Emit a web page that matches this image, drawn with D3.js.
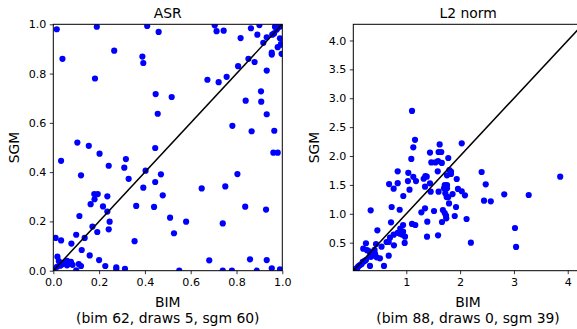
<!DOCTYPE html>
<html>
<head>
<meta charset="utf-8">
<script src="https://cdn.jsdelivr.net/npm/d3@7"></script>
<style>
  body { margin: 0; background: #fff; }
  svg { display: block; font-family: "DejaVu Sans", sans-serif; }
</style>
</head>
<body>
<div id="chart"></div>
<script>
// ASR panel: [bim, sgm]
const asrPoints = [
  [0.015,0.98],[0.04,0.86],[0.19,0.99],[0.182,0.78],[0.266,0.893],[0.389,0.869],[0.393,0.843],[0.41,0.993],[0.46,0.969],
  [0.447,0.717],[0.517,0.705],[0.456,0.637],[0.445,0.498],[0.105,0.52],[0.155,0.507],[0.202,0.475],[0.034,0.446],
  [0.242,0.426],[0.317,0.453],[0.31,0.418],
  [0.673,0.775],[0.722,0.765],[0.705,0.996],[0.713,0.972],[0.744,0.974],[0.757,0.787],[0.807,0.83],[0.818,0.944],
  [0.852,0.86],[0.863,0.984],[0.879,0.847],[0.891,0.958],[0.9,0.997],[0.917,0.925],[0.932,0.947],[0.932,0.812],
  [0.954,0.885],[0.954,0.877],[0.956,0.958],[0.964,0.963],[0.968,0.99],[0.972,0.993],[0.98,0.985],[0.98,0.907],
  [0.99,0.943],[0.994,0.92],[0.997,0.88],[0.975,0.978],[0.99,0.99],[1.0,1.0],[0.997,0.917],
  [0.782,0.588],[0.84,0.69],[0.866,0.566],[0.907,0.728],[0.908,0.686],[0.932,0.635],[0.965,0.568],[0.961,0.479],[0.98,0.479],
  [0.121,0.387],[0.329,0.373],[0.403,0.406],[0.47,0.391],[0.393,0.337],[0.445,0.36],[0.478,0.306],[0.362,0.263],
  [0.44,0.259],[0.51,0.215],[0.58,0.199],[0.527,0.152],[0.355,0.12],
  [0.179,0.311],[0.194,0.311],[0.18,0.29],[0.236,0.302],[0.163,0.27],[0.217,0.261],[0.236,0.24],[0.246,0.199],
  [0.242,0.168],[0.192,0.157],[0.171,0.179],[0.114,0.222],[0.01,0.133],[0.034,0.123],[0.1,0.146],[0.079,0.11],
  [0.137,0.133],[0.124,0.084],[0.159,0.062],[0.2,0.043],[0.227,0.019],[0.275,0.014],[0.275,0.005],[0.313,0.008],
  [0.111,0.027],[0.121,0.019],[0.1,0.001],[0.018,0.057],[0.024,0.039],[0.046,0.033],[0.06,0.04],[0.077,0.036],
  [0.084,0.024],[0.04,0.026],[0.016,0.016],[0.005,0.006],[0.03,0.02],[0.06,0.022],[0.07,0.028],
  [0.648,0.334],[0.751,0.342],[0.804,0.392],[0.838,0.26],[0.929,0.248],[0.74,0.192],[0.681,0.042],[0.859,0.046],
  [0.932,0.043],[0.55,0.0],[0.74,0.0],[0.78,0.0],[0.888,0.0],[0.954,0.01],[0.99,0.005]
];

// L2 norm panel: [bim, sgm]
const l2Points = [
  [1.106,2.78],[1.162,2.28],[1.13,2.15],[1.093,1.95],[1.44,2.06],[1.62,2.2],[1.60,2.07],[1.65,2.07],[2.03,2.22],
  [1.78,1.966],[1.465,1.89],[1.54,1.89],[1.59,1.91],[1.66,1.88],
  [0.84,1.735],[1.037,1.71],[1.13,1.64],[1.18,1.567],[1.03,1.567],[0.68,1.515],[0.84,1.53],[0.765,1.434],[1.06,1.417],
  [0.944,1.308],[1.354,1.654],[1.38,1.642],[1.323,1.607],[1.584,1.735],[1.8,1.758],[1.83,1.73],[1.83,1.69],
  [1.756,1.666],[1.937,1.602],[1.44,1.528],[1.348,1.469],[1.714,1.498],[1.757,1.498],[1.70,1.44],[1.757,1.44],
  [1.453,1.382],[1.60,1.382],[1.725,1.355],[1.75,1.29],[1.78,1.29],[1.86,1.342],[1.96,1.43],[2.03,1.39],[2.09,1.32],
  [2.40,1.723],[2.476,1.51],[2.82,1.337],[3.275,1.325],[3.86,1.642],[2.444,1.227],[2.57,1.216],[1.794,1.18],
  [1.28,1.026],[1.348,1.095],[1.515,1.048],[1.68,1.066],[1.714,1.014],[1.738,0.968],[1.743,0.922],[1.90,0.962],
  [1.924,1.118],[2.12,0.91],[1.663,0.858],[1.39,0.864],[1.106,0.824],[1.167,0.806],[0.94,0.806],[0.888,0.742],
  [1.59,0.628],[1.385,0.604],[2.20,0.5],[3.02,0.754],[3.04,0.426],[0.716,0.853],[0.728,1.118],[0.877,1.07],
  [0.338,1.06],[0.462,0.714],[0.883,0.656],[0.84,0.67],[0.766,0.639],[0.697,0.587],[0.673,0.512],[0.633,0.512],
  [0.94,0.69],[0.92,0.64],[0.976,0.604],[0.97,0.495],[0.77,0.455],[0.673,0.275],[0.585,0.097],[0.25,0.49],
  [0.2,0.396],[0.27,0.37],[0.437,0.477],[0.41,0.374],[0.39,0.34],[0.45,0.247],[0.325,0.097],[0.35,0.26],
  [0.54,0.43],[0.31,0.35],[0.42,0.305],[0.325,0.258],[0.25,0.2],[0.19,0.17],[0.14,0.114],[0.1,0.08],[0.05,0.04],
  [0.51,0.23],[0.015,0.027],[0.07,0.05],[0.12,0.1],[0.17,0.13],[0.22,0.18],[0.03,0.01],[0.08,0.03]
];

const asrTicks = [0, 0.2, 0.4, 0.6, 0.8, 1.0];
const l2XTicks = [1, 2, 3, 4];
const l2YTicks = [0.5, 1.0, 1.5, 2.0, 2.5, 3.0, 3.5, 4.0];

const panels = [
  { title: 'ASR', xlabel: 'BIM', note: '(bim 62, draws 5, sgm 60)', points: asrPoints,
    domain: [0, 1], xTicks: asrTicks, yTicks: asrTicks, xFmt: d3.format('.1f'), yFmt: d3.format('.1f'),
    left: 53.3, top: 24.3, width: 229, height: 246.4, ylabelX: 19.3 },
  { title: 'L2 norm', xlabel: 'BIM', note: '(bim 88, draws 0, sgm 39)', points: l2Points,
    domain: [0.015, 4.28], xTicks: l2XTicks, yTicks: l2YTicks, xFmt: d3.format('d'), yFmt: d3.format('.1f'),
    left: 353.3, top: 24.3, width: 229.5, height: 246.4, ylabelX: 319.3 }
];

const W = 577, H = 329;
const svg = d3.select('#chart').append('svg').attr('width', W).attr('height', H);

panels.forEach((p, i) => {
  const x = d3.scaleLinear().domain(p.domain).range([p.left, p.left + p.width]);
  const y = d3.scaleLinear().domain(p.domain).range([p.top + p.height, p.top]);

  svg.append('clipPath').attr('id', 'clip' + i)
    .append('rect').attr('x', p.left).attr('y', p.top).attr('width', p.width).attr('height', p.height);

  const plot = svg.append('g').attr('clip-path', `url(#clip${i})`);
  plot.selectAll('circle')
    .data(p.points)
    .enter()
    .append('circle')
    .attr('cx', d => x(d[0]))
    .attr('cy', d => y(d[1]))
    .attr('r', 3.1)
    .attr('fill', '#0000ff');

  plot.append('line')
    .attr('x1', x(p.domain[0])).attr('y1', y(p.domain[0]))
    .attr('x2', x(p.domain[1])).attr('y2', y(p.domain[1]))
    .attr('stroke', '#000').attr('stroke-width', 1.5);

  const xAxis = svg.append('g')
    .attr('transform', `translate(0,${p.top + p.height})`)
    .call(d3.axisBottom(x).tickValues(p.xTicks).tickFormat(p.xFmt).tickSize(3.5).tickPadding(3.5).tickSizeOuter(0));
  const yAxis = svg.append('g')
    .attr('transform', `translate(${p.left},0)`)
    .call(d3.axisLeft(y).tickValues(p.yTicks).tickFormat(p.yFmt).tickSize(3.5).tickPadding(3.5).tickSizeOuter(0));
  [xAxis, yAxis].forEach(a => {
    a.select('.domain').remove();
    a.selectAll('text').attr('font-size', 11.1).attr('font-family', '"DejaVu Sans", sans-serif').attr('fill', '#000');
    a.selectAll('line').attr('stroke', '#000').attr('stroke-width', 0.8);
  });

  svg.append('rect')
    .attr('x', p.left).attr('y', p.top).attr('width', p.width).attr('height', p.height)
    .attr('fill', 'none').attr('stroke', '#000').attr('stroke-width', 1);

  const cx = p.left + p.width / 2;
  svg.append('text').attr('x', cx).attr('y', 18.3).attr('text-anchor', 'middle')
    .attr('font-size', 13.9).attr('fill', '#000').text(p.title);
  svg.append('text').attr('x', cx).attr('y', 307.3).attr('text-anchor', 'middle')
    .attr('font-size', 13.9).attr('fill', '#000').text(p.xlabel);
  svg.append('text').attr('x', cx).attr('y', 322.8).attr('text-anchor', 'middle')
    .attr('font-size', 13.9).attr('fill', '#000').text(p.note);
  svg.append('text')
    .attr('transform', `translate(${p.ylabelX},${p.top + p.height / 2}) rotate(-90)`)
    .attr('text-anchor', 'middle')
    .attr('font-size', 13.9).attr('fill', '#000').text('SGM');
});
</script>
</body>
</html>
